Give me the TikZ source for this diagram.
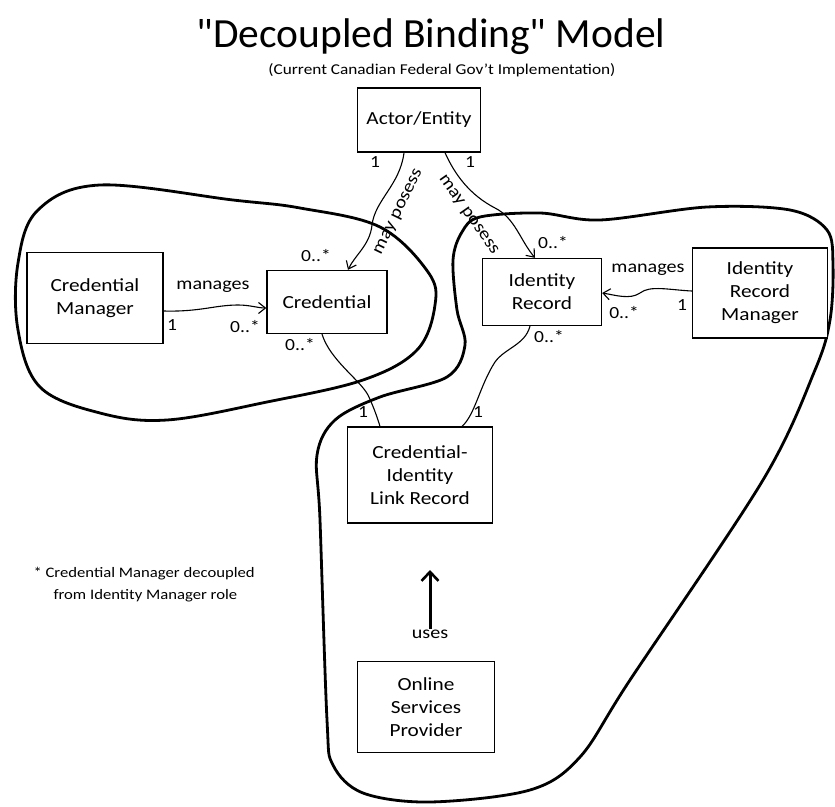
\documentclass[tikz,border=0pt]{standalone}
\usepackage{fontspec}
\setmainfont{Carlito}[FakeStretch=1.15]
\newfontfamily\titlefont{Carlito}
\usetikzlibrary{arrows.meta,calc}
\tikzset{
  box/.style={draw, line width=1.3pt, fill=white, align=center, inner sep=0pt,
    font=\fontsize{18.5}{23}\selectfont},
  conn/.style={line width=1.1pt},
  blob/.style={line width=2.8pt, line join=round},
  lbl/.style={font=\fontsize{17.5}{20}\selectfont, inner sep=1pt},
  mult/.style={font=\fontsize{17}{18}\selectfont, inner sep=1pt},
  openarrow/.style={-{Straight Barb[length=7pt,width=11pt,line width=1.1pt]}},
}
\begin{document}
\begin{tikzpicture}[x=1pt,y=-1pt]
\useasboundingbox (0,0) rectangle (835,806);
% blobs
\draw[blob] plot[smooth cycle, tension=0.6] coordinates {
  (100,185) (233,200) (300,208) (380,227) (428,272) (435,305) (417,350)
  (363,380) (267,402) (167,420) (100,413) (40,387) (18,330) (18,263) (38,210)};
\draw[blob] plot[smooth cycle, tension=0.55] coordinates {
  (480,217) (540,213) (600,220) (707,207) (790,210) (827,230) (833,265)
  (830,320) (815,370) (763,480) (630,680) (580,757) (530,790) (430,802)
  (363,793) (333,765) (327,720) (320,520) (317,455) (335,420) (380,397)
  (447,377) (465,345) (457,310) (453,260) (462,232)};
% title
\node[font=\titlefont\fontsize{41.5}{44}\selectfont] (title) at (431,37) {\symbol{34}Decoupled Binding\symbol{34} Model};
\node[font=\fontsize{15}{17}\selectfont] (subtitle) at (442,70) {(Current Canadian Federal Gov't Implementation)};
% boxes
\node[box, minimum width=123pt, minimum height=64pt] (actor) at (419,120) {Actor/Entity};
\node[box, minimum width=120pt, minimum height=63pt] (cred) at (327,302) {Credential};
\node[box, minimum width=136pt, minimum height=91pt] (cm) at (95,298) {Credential\\Manager};
\node[box, minimum width=119pt, minimum height=67pt] (ir) at (542,292) {Identity\\Record};
\node[box, minimum width=135pt, minimum height=90pt] (irm) at (760,293) {Identity\\Record\\Manager};
\node[box, minimum width=145pt, minimum height=96pt] (link) at (420,475) {Credential-\\Identity\\Link Record};
\node[box, minimum width=137pt, minimum height=91pt] (osp) at (426,707) {Online\\Services\\Provider};
% connectors
\draw[conn, openarrow] ($(actor.south)+(-15,0)$) .. controls (400,185) and (375,200) .. (372,225)
  .. controls (370,245) and (355,255) .. ($(cred.north)+(21,0)$);
\draw[conn, openarrow] ($(actor.south)+(26,0)$) .. controls (455,175) and (470,195) .. (495,208)
  .. controls (515,218) and (520,240) .. ($(ir.north)+(-7,0)$);
\draw[conn, openarrow] ($(cm.east)+(0,13)$) .. controls (200,312) and (215,305) .. (238,305)
  .. controls (250,305) and (258,308) .. ($(cred.west)+(0,6)$);
\draw[conn, openarrow] ($(irm.west)+(0,-2)$) .. controls (670,290) and (650,285) .. (640,293)
  .. controls (630,300) and (615,295) .. ($(ir.east)+(0,1)$);
\draw[conn] ($(cred.south)+(-5,0)$) .. controls (330,360) and (360,380) .. (368,395)
  .. controls (375,410) and (378,420) .. ($(link.north)+(-40,0)$);
\draw[conn] ($(ir.south)+(-12,0)$) .. controls (525,345) and (505,348) .. (495,362)
  .. controls (480,385) and (475,415) .. ($(link.north)+(42,0)$);
% uses
\node[lbl] (uses) at (430,634) {uses};
\coordinate (usetip) at (430,570);
\draw[line width=3pt, -{Straight Barb[length=9pt,width=17pt,line width=2.6pt]}] (uses.north) -- (usetip);
% labels
\node[lbl, rotate=64] (mp1) at (399,212) {may posess};
\node[lbl, rotate=-55] (mp2) at (468,215) {may posess};
\node[lbl] (man1) at (213,287) {manages};
\node[lbl] (man2) at (648,270) {manages};
% multiplicities
\node[mult] (m1) at (375,162) {1};
\node[mult] (m2) at (470,162) {1};
\node[mult] (m3) at (316,256) {0..*};
\node[mult] (m4) at (553,243) {0..*};
\node[mult] (m5) at (172,325) {1};
\node[mult] (m6) at (245,327) {0..*};
\node[mult] (m7) at (682,305) {1};
\node[mult] (m8) at (624,313) {0..*};
\node[mult] (m9) at (300,345) {0..*};
\node[mult] (m10) at (549,337) {0..*};
\node[mult] (m11) at (363,412) {1};
\node[mult] (m12) at (478,412) {1};
% footnote
\node[font=\fontsize{14.5}{22}\selectfont, align=left, anchor=north west] (note) at (30,564)
  {* Credential Manager decoupled\\\hspace*{20pt}from Identity Manager role};
\end{tikzpicture}
\end{document}
